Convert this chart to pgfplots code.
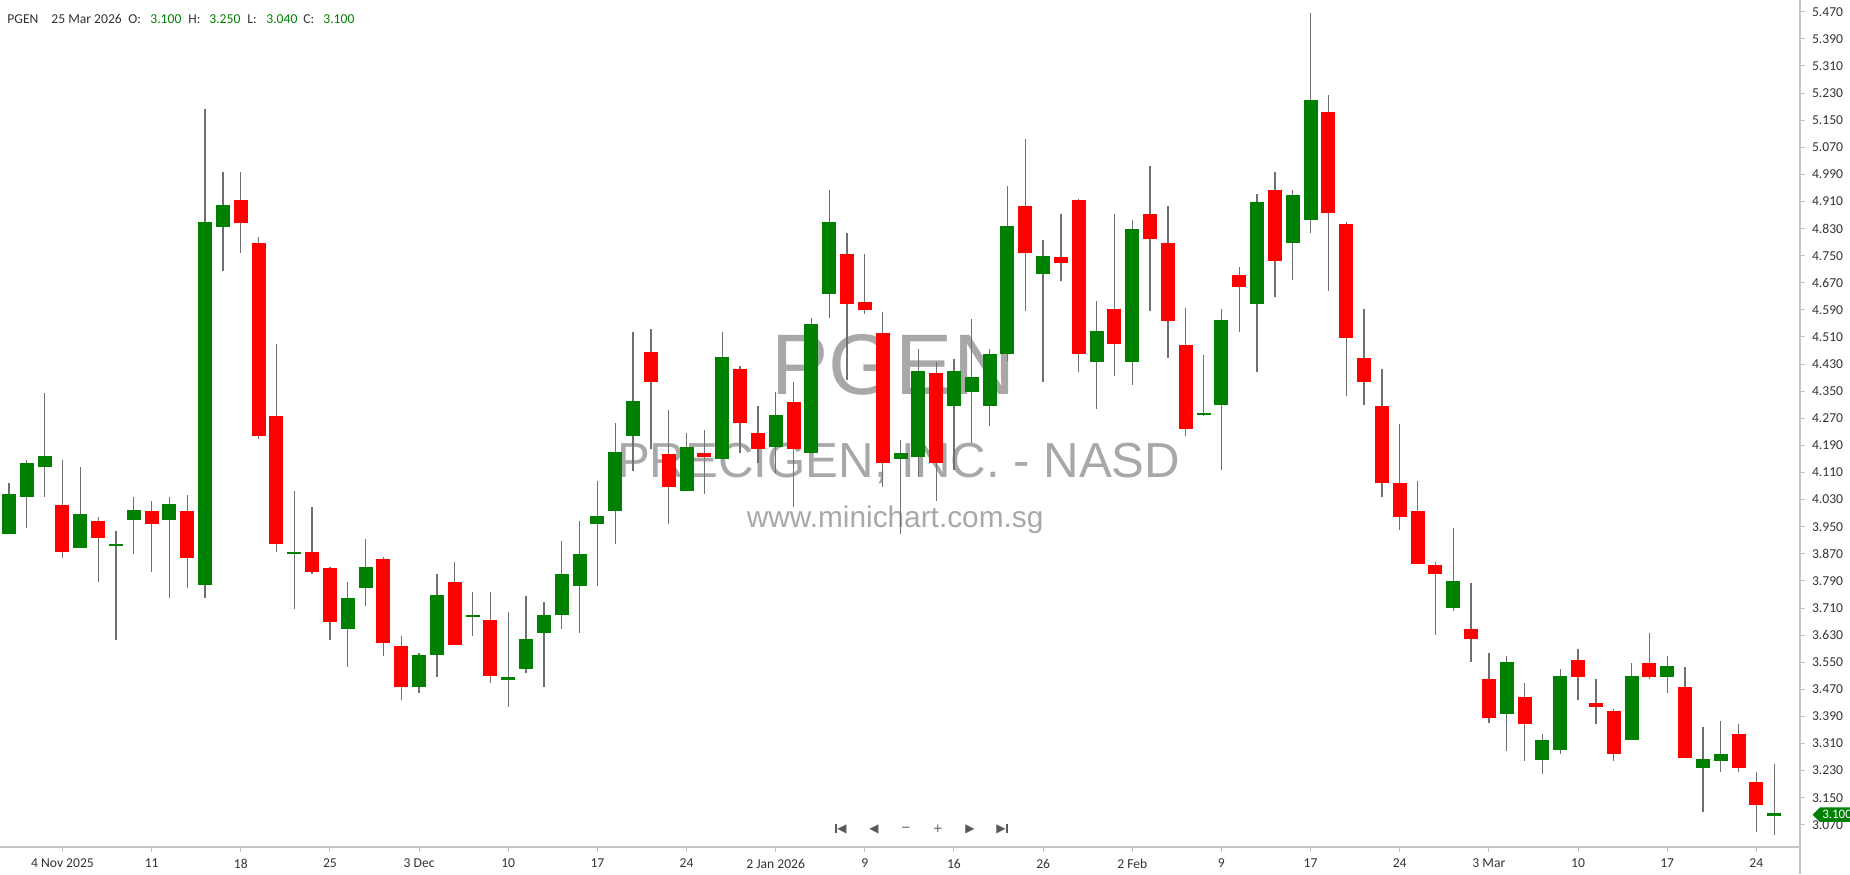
\documentclass[border=0pt]{standalone}
\usepackage{pgfplots}
\pgfplotsset{compat=1.18}
\usepackage{pgfplotstable}
\usepackage{fontspec}
\setmainfont{Carlito}
\newfontfamily\wmfont{Liberation Sans}
\newfontfamily\symfont{DejaVu Sans}
\usetikzlibrary{shapes.symbols}

\definecolor{upgreen}{HTML}{008000}
\definecolor{downred}{HTML}{FF0000}
\definecolor{wick}{HTML}{707070}
\definecolor{axisgray}{HTML}{C4C4C4}
\definecolor{labelgray}{HTML}{333333}
\definecolor{wmgray}{HTML}{A8A8A8}

% x = trading day (0 = 30 Oct 2025), o h l c
\pgfplotstableread{
x o h l c
0 3.927 4.078 3.927 4.043
1 4.038 4.147 3.945 4.136
2 4.126 4.346 4.038 4.155
4 3.887 4.125 3.887 3.985
6 3.896 3.936 3.617 3.896
7 3.969 4.037 3.869 3.996
9 3.969 4.037 3.740 4.015
11 3.777 5.184 3.740 4.845
12 4.835 4.996 4.706 4.895
16 3.872 4.055 3.706 3.872
19 3.647 3.786 3.536 3.737
20 3.769 3.915 3.716 3.827
23 3.478 3.577 3.459 3.569
24 3.570 3.809 3.507 3.745
26 3.686 3.757 3.628 3.686
28 3.502 3.697 3.418 3.502
29 3.530 3.746 3.519 3.616
30 3.637 3.727 3.478 3.686
31 3.688 3.909 3.647 3.807
32 3.776 3.967 3.637 3.866
33 3.957 4.085 3.776 3.977
34 3.997 4.255 3.898 4.166
35 4.219 4.524 4.115 4.317
38 4.056 4.226 4.056 4.183
40 4.150 4.524 4.150 4.446
43 4.186 4.347 4.108 4.276
45 4.167 4.565 4.167 4.545
46 4.636 4.944 4.565 4.845
50 4.150 4.206 3.928 4.165
51 4.157 4.475 4.098 4.405
53 4.307 4.445 4.117 4.405
54 4.349 4.564 4.196 4.387
55 4.307 4.475 4.248 4.457
56 4.459 4.956 4.440 4.833
58 4.696 4.796 4.377 4.745
61 4.436 4.615 4.296 4.524
63 4.436 4.855 4.367 4.826
67 4.282 4.457 4.277 4.282
68 4.308 4.593 4.117 4.557
70 4.607 4.932 4.408 4.904
72 4.787 4.945 4.677 4.925
73 4.856 5.465 4.817 5.206
81 3.709 3.946 3.702 3.785
84 3.396 3.568 3.289 3.547
86 3.260 3.337 3.219 3.317
87 3.290 3.529 3.279 3.505
91 3.319 3.547 3.319 3.505
93 3.505 3.568 3.458 3.535
95 3.237 3.359 3.109 3.260
96 3.259 3.377 3.227 3.277
99 3.100 3.250 3.040 3.100
}\upcandles

\pgfplotstableread{
x o h l c
3 4.015 4.147 3.857 3.875
5 3.967 3.978 3.787 3.917
8 3.996 4.026 3.816 3.957
10 3.996 4.044 3.769 3.857
13 4.915 4.996 4.758 4.846
14 4.787 4.804 4.208 4.219
15 4.277 4.489 3.876 3.898
17 3.874 4.007 3.809 3.817
18 3.827 3.830 3.617 3.668
21 3.856 3.861 3.569 3.606
22 3.598 3.628 3.437 3.478
25 3.786 3.845 3.601 3.601
27 3.675 3.757 3.489 3.508
36 4.465 4.535 4.179 4.378
37 4.166 4.295 3.957 4.067
39 4.167 4.235 4.046 4.157
41 4.417 4.424 4.167 4.256
42 4.226 4.306 4.137 4.179
44 4.317 4.376 4.009 4.179
47 4.756 4.816 4.383 4.606
48 4.614 4.756 4.577 4.589
49 4.523 4.585 4.068 4.139
52 4.405 4.435 4.027 4.139
57 4.896 5.095 4.588 4.757
59 4.745 4.874 4.676 4.727
60 4.914 4.918 4.407 4.459
62 4.594 4.874 4.396 4.488
64 4.874 5.015 4.588 4.798
65 4.786 4.896 4.447 4.558
66 4.486 4.595 4.219 4.237
69 4.694 4.716 4.526 4.658
71 4.945 4.997 4.628 4.734
74 5.173 5.224 4.647 4.876
75 4.845 4.850 4.337 4.507
76 4.447 4.594 4.308 4.378
77 4.306 4.416 4.039 4.079
78 4.078 4.254 3.940 3.980
79 3.996 4.086 3.840 3.840
80 3.838 3.845 3.630 3.811
82 3.647 3.785 3.550 3.618
83 3.499 3.577 3.370 3.385
85 3.446 3.488 3.259 3.367
88 3.558 3.588 3.437 3.506
89 3.429 3.499 3.367 3.419
90 3.406 3.411 3.259 3.279
92 3.547 3.635 3.499 3.505
94 3.476 3.535 3.267 3.267
97 3.337 3.367 3.227 3.237
98 3.195 3.225 3.050 3.128
}\downcandles

\begin{document}
\begin{tikzpicture}
\path[use as bounding box] (0pt,-13.5pt) rectangle (925pt,423.5pt);
\begin{axis}[
  at={(0pt,0pt)}, anchor=south west,
  scale only axis, width=900pt, height=423.5pt,
  xmin=-0.505, xmax=100.45, ymin=3.0045, ymax=5.5048,
  axis x line*=bottom, axis y line*=right,
  axis line style={axisgray, line width=0.6pt},
  every tick/.style={axisgray, line width=0.5pt},
  tick align=outside, major tick length=2.5pt,
  xtick={3,8,...,98},
  xticklabels={4 Nov 2025,11,18,25,3 Dec,10,17,24,2 Jan 2026,9,16,26,2 Feb,9,17,24,3 Mar,10,17,24},
  ytick={3.07,3.15,3.23,3.31,3.39,3.47,3.55,3.63,3.71,3.79,3.87,3.95,4.03,4.11,4.19,4.27,4.35,4.43,4.51,4.59,4.67,4.75,4.83,4.91,4.99,5.07,5.15,5.23,5.31,5.39,5.47},
  yticklabel={\pgfmathprintnumber[fixed,fixed zerofill,precision=3,assume math mode=true]{\tick}},
  ticklabel style={font=\fontsize{6.8}{8}\selectfont, text=labelgray},
  clip=false,
  candle/.style={draw=none, mark=none, error bars/.cd, y dir=both, y explicit, error mark=none},
]
% watermark
\node[font=\wmfont\fontsize{43}{43}\selectfont, text=wmgray] at (axis cs:49.6,4.427) {PGEN};
\node[font=\wmfont\fontsize{24.6}{25}\selectfont, text=wmgray] at (axis cs:49.9,4.138) {PRECIGEN, INC. - NASD};
\node[font=\wmfont\fontsize{14.9}{15}\selectfont, text=wmgray] at (axis cs:49.7,3.970) {www.minichart.com.sg};

% wicks
\addplot[candle, error bar style={wick, line width=0.65pt}]
  table[x=x, y=h, y error plus expr=0, y error minus expr=\thisrow{h}-\thisrow{l}] {\upcandles};
\addplot[candle, error bar style={wick, line width=0.65pt}]
  table[x=x, y=h, y error plus expr=0, y error minus expr=\thisrow{h}-\thisrow{l}] {\downcandles};
% bodies
\addplot[candle, error bar style={upgreen, line width=7pt}]
  table[x=x, y=c, y error plus expr=0.0035, y error minus expr={max(\thisrow{c}-\thisrow{o},0.0035)}] {\upcandles};
\addplot[candle, error bar style={downred, line width=7pt}]
  table[x=x, y=o, y error plus expr=0, y error minus expr={max(\thisrow{o}-\thisrow{c},0.007)}] {\downcandles};

\coordinate (tag) at (axis cs:100.45,3.10);
\end{axis}

% right axis line runs on below the x axis
\draw[axisgray, line width=0.6pt] (900pt,0pt) -- (900pt,-13.5pt);

% last price tag
\node[signal, signal to=west, fill=upgreen, text=white, anchor=west,
  font=\fontsize{6.5}{7}\selectfont, inner xsep=1.2pt, inner ysep=1.5pt, xshift=6pt] at (tag) {3.100};

% header
\begin{scope}[every node/.style={anchor=base west, inner sep=0pt, font=\fontsize{6.8}{8}\selectfont}]
\node[text=labelgray] at (3.5pt,411.5pt) {PGEN};
\node[text=labelgray] at (25.5pt,411.5pt) {25 Mar 2026};
\node[text=labelgray] at (64pt,411.5pt) {O:};
\node[text=upgreen] at (75pt,411.5pt) {3.100};
\node[text=labelgray] at (94pt,411.5pt) {H:};
\node[text=upgreen] at (104.5pt,411.5pt) {3.250};
\node[text=labelgray] at (123.5pt,411.5pt) {L:};
\node[text=upgreen] at (133pt,411.5pt) {3.040};
\node[text=labelgray] at (151.5pt,411.5pt) {C:};
\node[text=upgreen] at (161.5pt,411.5pt) {3.100};
\end{scope}

% navigation buttons
\begin{scope}[every node/.style={inner sep=0pt, text=black!65, font=\symfont\fontsize{6}{6}\selectfont}]
\node at (420.5pt,9pt) {\rule{0.6pt}{4.6pt}\kern0.4pt◀};
\node at (437pt,9pt) {◀};
\node at (453pt,9pt) {−};
\node at (469pt,9pt) {+};
\node at (485pt,9pt) {▶};
\node at (501pt,9pt) {▶\kern0.4pt\rule{0.6pt}{4.6pt}};
\end{scope}
\end{tikzpicture}
\end{document}
